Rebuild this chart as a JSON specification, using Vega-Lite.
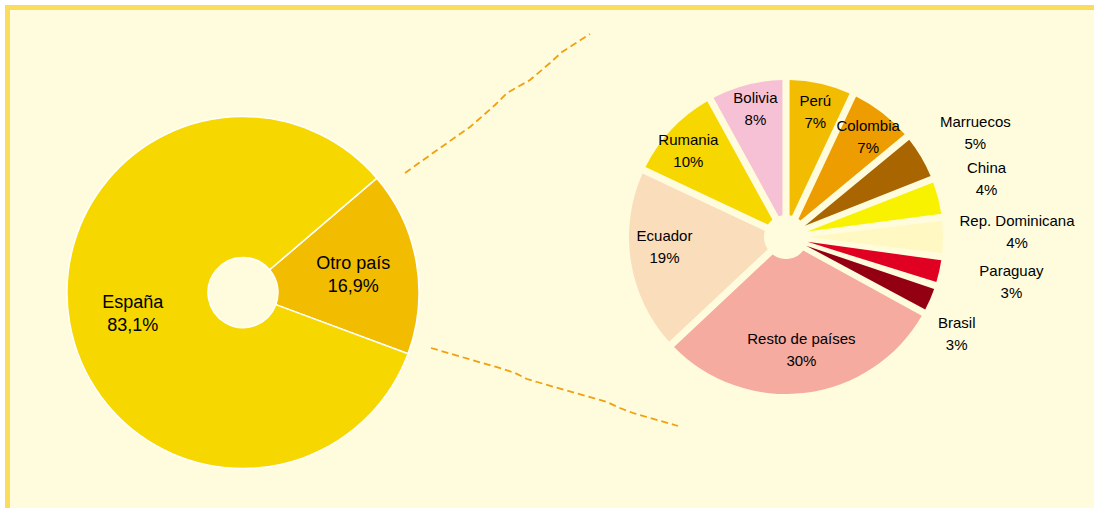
{
  "$schema": "https://vega.github.io/schema/vega-lite/v6.json",
  "width": 1086.5,
  "height": 500.5,
  "autosize": {"type": "none"},
  "padding": {"left": 7.5, "top": 7.5, "right": 0, "bottom": 0},
  "background": "#FFFFFF",
  "config": {
    "view": {"stroke": null, "fill": "#FFFCDD"},
    "font": "Liberation Sans"
  },
  "datasets": {
    "marco": [{"borde": "marco"}],
    "total": [
      {"grupo": "Otro país", "pct": 16.9, "orden": 1, "etiqueta": "Otro país\n16,9%"},
      {"grupo": "España", "pct": 83.1, "orden": 2, "etiqueta": "España\n83,1%"}
    ],
    "extranjeros": [
      {"grupo": "Perú", "pct": 7, "orden": 1, "etiqueta": "Perú\n7%"},
      {"grupo": "Colombia", "pct": 7, "orden": 2, "etiqueta": "Colombia\n7%"},
      {"grupo": "Marruecos", "pct": 5, "orden": 3, "etiqueta": "Marruecos\n5%"},
      {"grupo": "China", "pct": 4, "orden": 4, "etiqueta": "China\n4%"},
      {"grupo": "Rep. Dominicana", "pct": 4, "orden": 5, "etiqueta": "Rep. Dominicana\n4%"},
      {"grupo": "Paraguay", "pct": 3, "orden": 6, "etiqueta": "Paraguay\n3%"},
      {"grupo": "Brasil", "pct": 3, "orden": 7, "etiqueta": "Brasil\n3%"},
      {"grupo": "Resto de países", "pct": 30, "orden": 8, "etiqueta": "Resto de países\n30%"},
      {"grupo": "Ecuador", "pct": 19, "orden": 9, "etiqueta": "Ecuador\n19%"},
      {"grupo": "Rumania", "pct": 10, "orden": 10, "etiqueta": "Rumania\n10%"},
      {"grupo": "Bolivia", "pct": 8, "orden": 11, "etiqueta": "Bolivia\n8%"}
    ],
    "conectores": [
      {"linea": "superior", "px": 405, "py": 173},
      {"linea": "superior", "px": 440, "py": 148},
      {"linea": "superior", "px": 470, "py": 127},
      {"linea": "superior", "px": 495, "py": 105},
      {"linea": "superior", "px": 507, "py": 93},
      {"linea": "superior", "px": 530, "py": 80},
      {"linea": "superior", "px": 550, "py": 63},
      {"linea": "superior", "px": 562, "py": 52},
      {"linea": "superior", "px": 590, "py": 34},
      {"linea": "inferior", "px": 431, "py": 348},
      {"linea": "inferior", "px": 503, "py": 369},
      {"linea": "inferior", "px": 515, "py": 373},
      {"linea": "inferior", "px": 527, "py": 379},
      {"linea": "inferior", "px": 537, "py": 382},
      {"linea": "inferior", "px": 607, "py": 402},
      {"linea": "inferior", "px": 620, "py": 408},
      {"linea": "inferior", "px": 633, "py": 413},
      {"linea": "inferior", "px": 678, "py": 426}
    ]
  },
  "layer": [
    {
      "data": {"name": "marco"},
      "mark": {"type": "rule", "color": "#FBDD5E", "strokeWidth": 5, "strokeCap": "square"},
      "encoding": {
        "y": {"datum": 7.5, "type": "quantitative", "axis": null, "scale": {"domain": [7.5, 508], "nice": false, "zero": false, "reverse": true}}
      }
    },
    {
      "data": {"name": "marco"},
      "mark": {"type": "rule", "color": "#FBDD5E", "strokeWidth": 5, "strokeCap": "square"},
      "encoding": {
        "x": {"datum": 7.5, "type": "quantitative", "axis": null, "scale": {"domain": [7.5, 1094], "nice": false, "zero": false}}
      }
    },
    {
      "data": {"name": "conectores"},
      "mark": {"type": "line", "color": "#F0A010", "strokeWidth": 1.8, "strokeDash": [7, 4]},
      "encoding": {
        "x": {"field": "px", "type": "quantitative", "axis": null, "scale": {"domain": [7.5, 1094], "nice": false, "zero": false}},
        "y": {"field": "py", "type": "quantitative", "axis": null, "scale": {"domain": [7.5, 508], "nice": false, "zero": false, "reverse": true}},
        "detail": {"field": "linea"}
      }
    },
    {
      "data": {"name": "total"},
      "encoding": {
        "x": {"datum": 243, "type": "quantitative", "axis": null, "scale": {"domain": [7.5, 1094], "nice": false, "zero": false}},
        "y": {"datum": 292.5, "type": "quantitative", "axis": null, "scale": {"domain": [7.5, 508], "nice": false, "zero": false, "reverse": true}},
        "theta": {"field": "pct", "type": "quantitative", "stack": true, "scale": {"range": [0.864, 7.147]}},
        "order": {"field": "orden", "type": "quantitative"}
      },
      "layer": [
        {
          "mark": {"type": "arc", "outerRadius": 176, "innerRadius": 35, "stroke": "#FFFFFF", "strokeWidth": 1.5},
          "encoding": {
            "color": {
              "field": "grupo", "type": "nominal", "legend": null,
              "scale": {
                "domain": ["España", "Otro país", "Perú", "Colombia", "Marruecos", "China", "Rep. Dominicana", "Paraguay", "Brasil", "Resto de países", "Ecuador", "Rumania", "Bolivia"],
                "range": ["#F6D700", "#F2BC00", "#F2BC00", "#EE9D00", "#A86500", "#F8F200", "#FFF8C2", "#E00022", "#930012", "#F5AB9F", "#FADDBA", "#F6D700", "#F7C1D5"]
              }
            }
          }
        },
        {
          "mark": {"type": "text", "radius": 112, "dy": -9, "fontSize": 18, "lineBreak": "\n", "lineHeight": 23, "align": "center", "baseline": "middle", "color": "#000000"},
          "encoding": {"text": {"field": "etiqueta"}}
        }
      ]
    },
    {
      "data": {"name": "extranjeros"},
      "encoding": {
        "x": {"datum": 786, "type": "quantitative", "axis": null, "scale": {"domain": [7.5, 1094], "nice": false, "zero": false}},
        "y": {"datum": 237, "type": "quantitative", "axis": null, "scale": {"domain": [7.5, 508], "nice": false, "zero": false, "reverse": true}},
        "theta": {"field": "pct", "type": "quantitative", "stack": true, "scale": {"range": [0, 6.2832]}},
        "order": {"field": "orden", "type": "quantitative"}
      },
      "layer": [
        {
          "mark": {"type": "arc", "outerRadius": 157, "innerRadius": 22, "padAngle": 0.045},
          "encoding": {
            "color": {
              "field": "grupo", "type": "nominal", "legend": null,
              "scale": {
                "domain": ["España", "Otro país", "Perú", "Colombia", "Marruecos", "China", "Rep. Dominicana", "Paraguay", "Brasil", "Resto de países", "Ecuador", "Rumania", "Bolivia"],
                "range": ["#F6D700", "#F2BC00", "#F2BC00", "#EE9D00", "#A86500", "#F8F200", "#FFF8C2", "#E00022", "#930012", "#F5AB9F", "#FADDBA", "#F6D700", "#F7C1D5"]
              }
            }
          }
        },
        {
          "mark": {"type": "text", "radius": 123, "dy": -20, "fontSize": 15, "lineBreak": "\n", "lineHeight": 22, "align": "center", "baseline": "middle", "color": "#000000"},
          "encoding": {"text": {"condition": {"test": "indexof(['Bolivia','Resto de países','Ecuador'], datum.grupo) >= 0", "field": "etiqueta"}, "value": ""}}
        },
        {
          "mark": {"type": "text", "radius": 134, "dy": -5, "fontSize": 15, "lineBreak": "\n", "lineHeight": 22, "align": "center", "baseline": "middle", "color": "#000000"},
          "encoding": {"text": {"condition": {"test": "indexof(['Perú','Colombia','Rumania'], datum.grupo) >= 0", "field": "etiqueta"}, "value": ""}}
        },
        {
          "mark": {"type": "text", "radius": 220, "dy": -3, "fontSize": 15, "lineBreak": "\n", "lineHeight": 22, "align": "center", "baseline": "middle", "color": "#000000"},
          "encoding": {"text": {"condition": {"test": "datum.grupo === 'Marruecos'", "field": "etiqueta"}, "value": ""}}
        },
        {
          "mark": {"type": "text", "radius": 207, "dy": -18, "fontSize": 15, "lineBreak": "\n", "lineHeight": 22, "align": "center", "baseline": "middle", "color": "#000000"},
          "encoding": {"text": {"condition": {"test": "datum.grupo === 'China'", "field": "etiqueta"}, "value": ""}}
        },
        {
          "mark": {"type": "text", "radius": 231, "dy": -16, "fontSize": 15, "lineBreak": "\n", "lineHeight": 22, "align": "center", "baseline": "middle", "color": "#000000"},
          "encoding": {"text": {"condition": {"test": "datum.grupo === 'Rep. Dominicana' || datum.grupo === 'Paraguay'", "field": "etiqueta"}, "value": ""}}
        },
        {
          "mark": {"type": "text", "radius": 186, "dy": 12, "fontSize": 15, "lineBreak": "\n", "lineHeight": 22, "align": "center", "baseline": "middle", "color": "#000000"},
          "encoding": {"text": {"condition": {"test": "datum.grupo === 'Brasil'", "field": "etiqueta"}, "value": ""}}
        }
      ]
    }
  ],
  "resolve": {"scale": {"theta": "independent"}}
}
